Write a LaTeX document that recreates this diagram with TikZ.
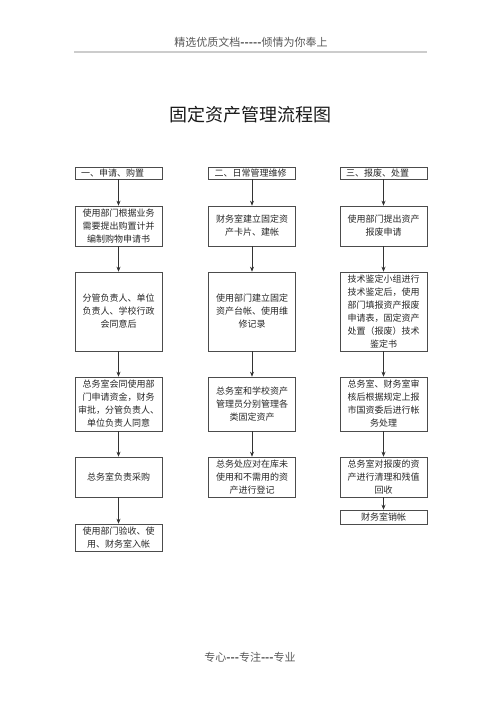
\documentclass[tikz,border=0pt]{standalone}
\usepackage{fontspec}
\setmainfont{Noto Sans CJK SC}[Ligatures=TeXOff]
\usetikzlibrary{arrows.meta}

\begin{document}
\begin{tikzpicture}[x=1pt, y=-1pt,
		box/.style = {draw=black!70, line width=0.6pt, minimum width=87pt, inner xsep=2pt, inner ysep=0pt, text width=83pt, align=center, font=\fontsize{9}{13}\selectfont, text=black!85},
		headbox/.style = {box, inner xsep=6pt, text width=75pt, align=left, minimum height=12pt},
		flow/.style = {-{Stealth[length=5pt, width=4pt]}, black!80, line width=0.6pt}]
			\useasboundingbox (0,0) rectangle (500,708);
			
			% page header, title, footer
			\node [text=black!65, font=\fontsize{11}{11}\selectfont] (top) at (251,42) {精选优质文档\textbf{-----}倾情为你奉上};
			\draw [black!20, line width=1.5pt] (74,52) -- (427,52);
			\node [text=black!90, font=\fontsize{18}{18}\selectfont] (title) at (250,115) {固定资产管理流程图};
			\node [text=black!65, font=\fontsize{11}{11}\selectfont] (foot) at (250,657) {专心\textbf{---}专注\textbf{---}专业};
			
			% column 1
			\node [headbox] (h1) at (118.5,173) {一、申请、购置};
			\node [box, minimum height=40pt] (a1) at (118.5,226) {使用部门根据业务\\需要提出购置计并\\编制购物申请书};
			\node [box, minimum height=79pt] (b1) at (118.5,311.5) {分管负责人、单位\\负责人、学校行政\\会同意后};
			\node [box, minimum height=54pt] (c1) at (118.5,404) {总务室会同使用部\\门申请资金，财务\\审批，分管负责人、\\单位负责人同意};
			\node [box, minimum height=40pt] (d1) at (118.5,477) {总务室负责采购};
			\node [box, minimum height=27pt] (e1) at (118.5,537.5) {使用部门验收、使\\用、财务室入帐};
			
			% column 2
			\node [headbox] (h2) at (252,173) {二、日常管理维修};
			\node [box, minimum height=40pt] (a2) at (252,226) {财务室建立固定资\\产卡片、建帐};
			\node [box, minimum height=79pt] (b2) at (252,311.5) {使用部门建立固定\\资产台帐、使用维\\修记录};
			\node [box, minimum height=54pt] (c2) at (252,404) {总务室和学校资产\\管理员分别管理各\\类固定资产};
			\node [box, minimum height=40pt] (d2) at (252,477) {总务处应对在库未\\使用和不需用的资\\产进行登记};
			
			% column 3
			\node [headbox] (h3) at (383.5,173) {三、报废、处置};
			\node [box, minimum height=40pt] (a3) at (383.5,226) {使用部门提出资产\\报废申请};
			\node [box, minimum height=79pt] (b3) at (383.5,311.5) {技术鉴定小组进行\\技术鉴定后，使用\\部门填报资产报废\\申请表，固定资产\\处置（报废）技术\\鉴定书};
			\node [box, minimum height=54pt] (c3) at (383.5,404) {总务室、财务室审\\核后根据规定上报\\市国资委后进行帐\\务处理};
			\node [box, minimum height=40pt] (d3) at (383.5,477) {总务室对报废的资\\产进行清理和残值\\回收};
			\node [box, minimum height=14pt] (e3) at (383.5,517) {财务室销帐};
			
			\begin{scope}[flow]
				\draw (h1) -- (a1);
				\draw (a1) -- (b1);
				\draw (b1) -- (c1);
				\draw (c1) -- (d1);
				\draw (d1) -- (e1);
				
				\draw (h2) -- (a2);
				\draw (a2) -- (b2);
				\draw (b2) -- (c2);
				\draw (c2) -- (d2);
				
				\draw (h3) -- (a3);
				\draw (a3) -- (b3);
				\draw (b3) -- (c3);
				\draw (c3) -- (d3);
				\draw (d3) -- (e3);
			\end{scope}
		\end{tikzpicture}
\end{document}
